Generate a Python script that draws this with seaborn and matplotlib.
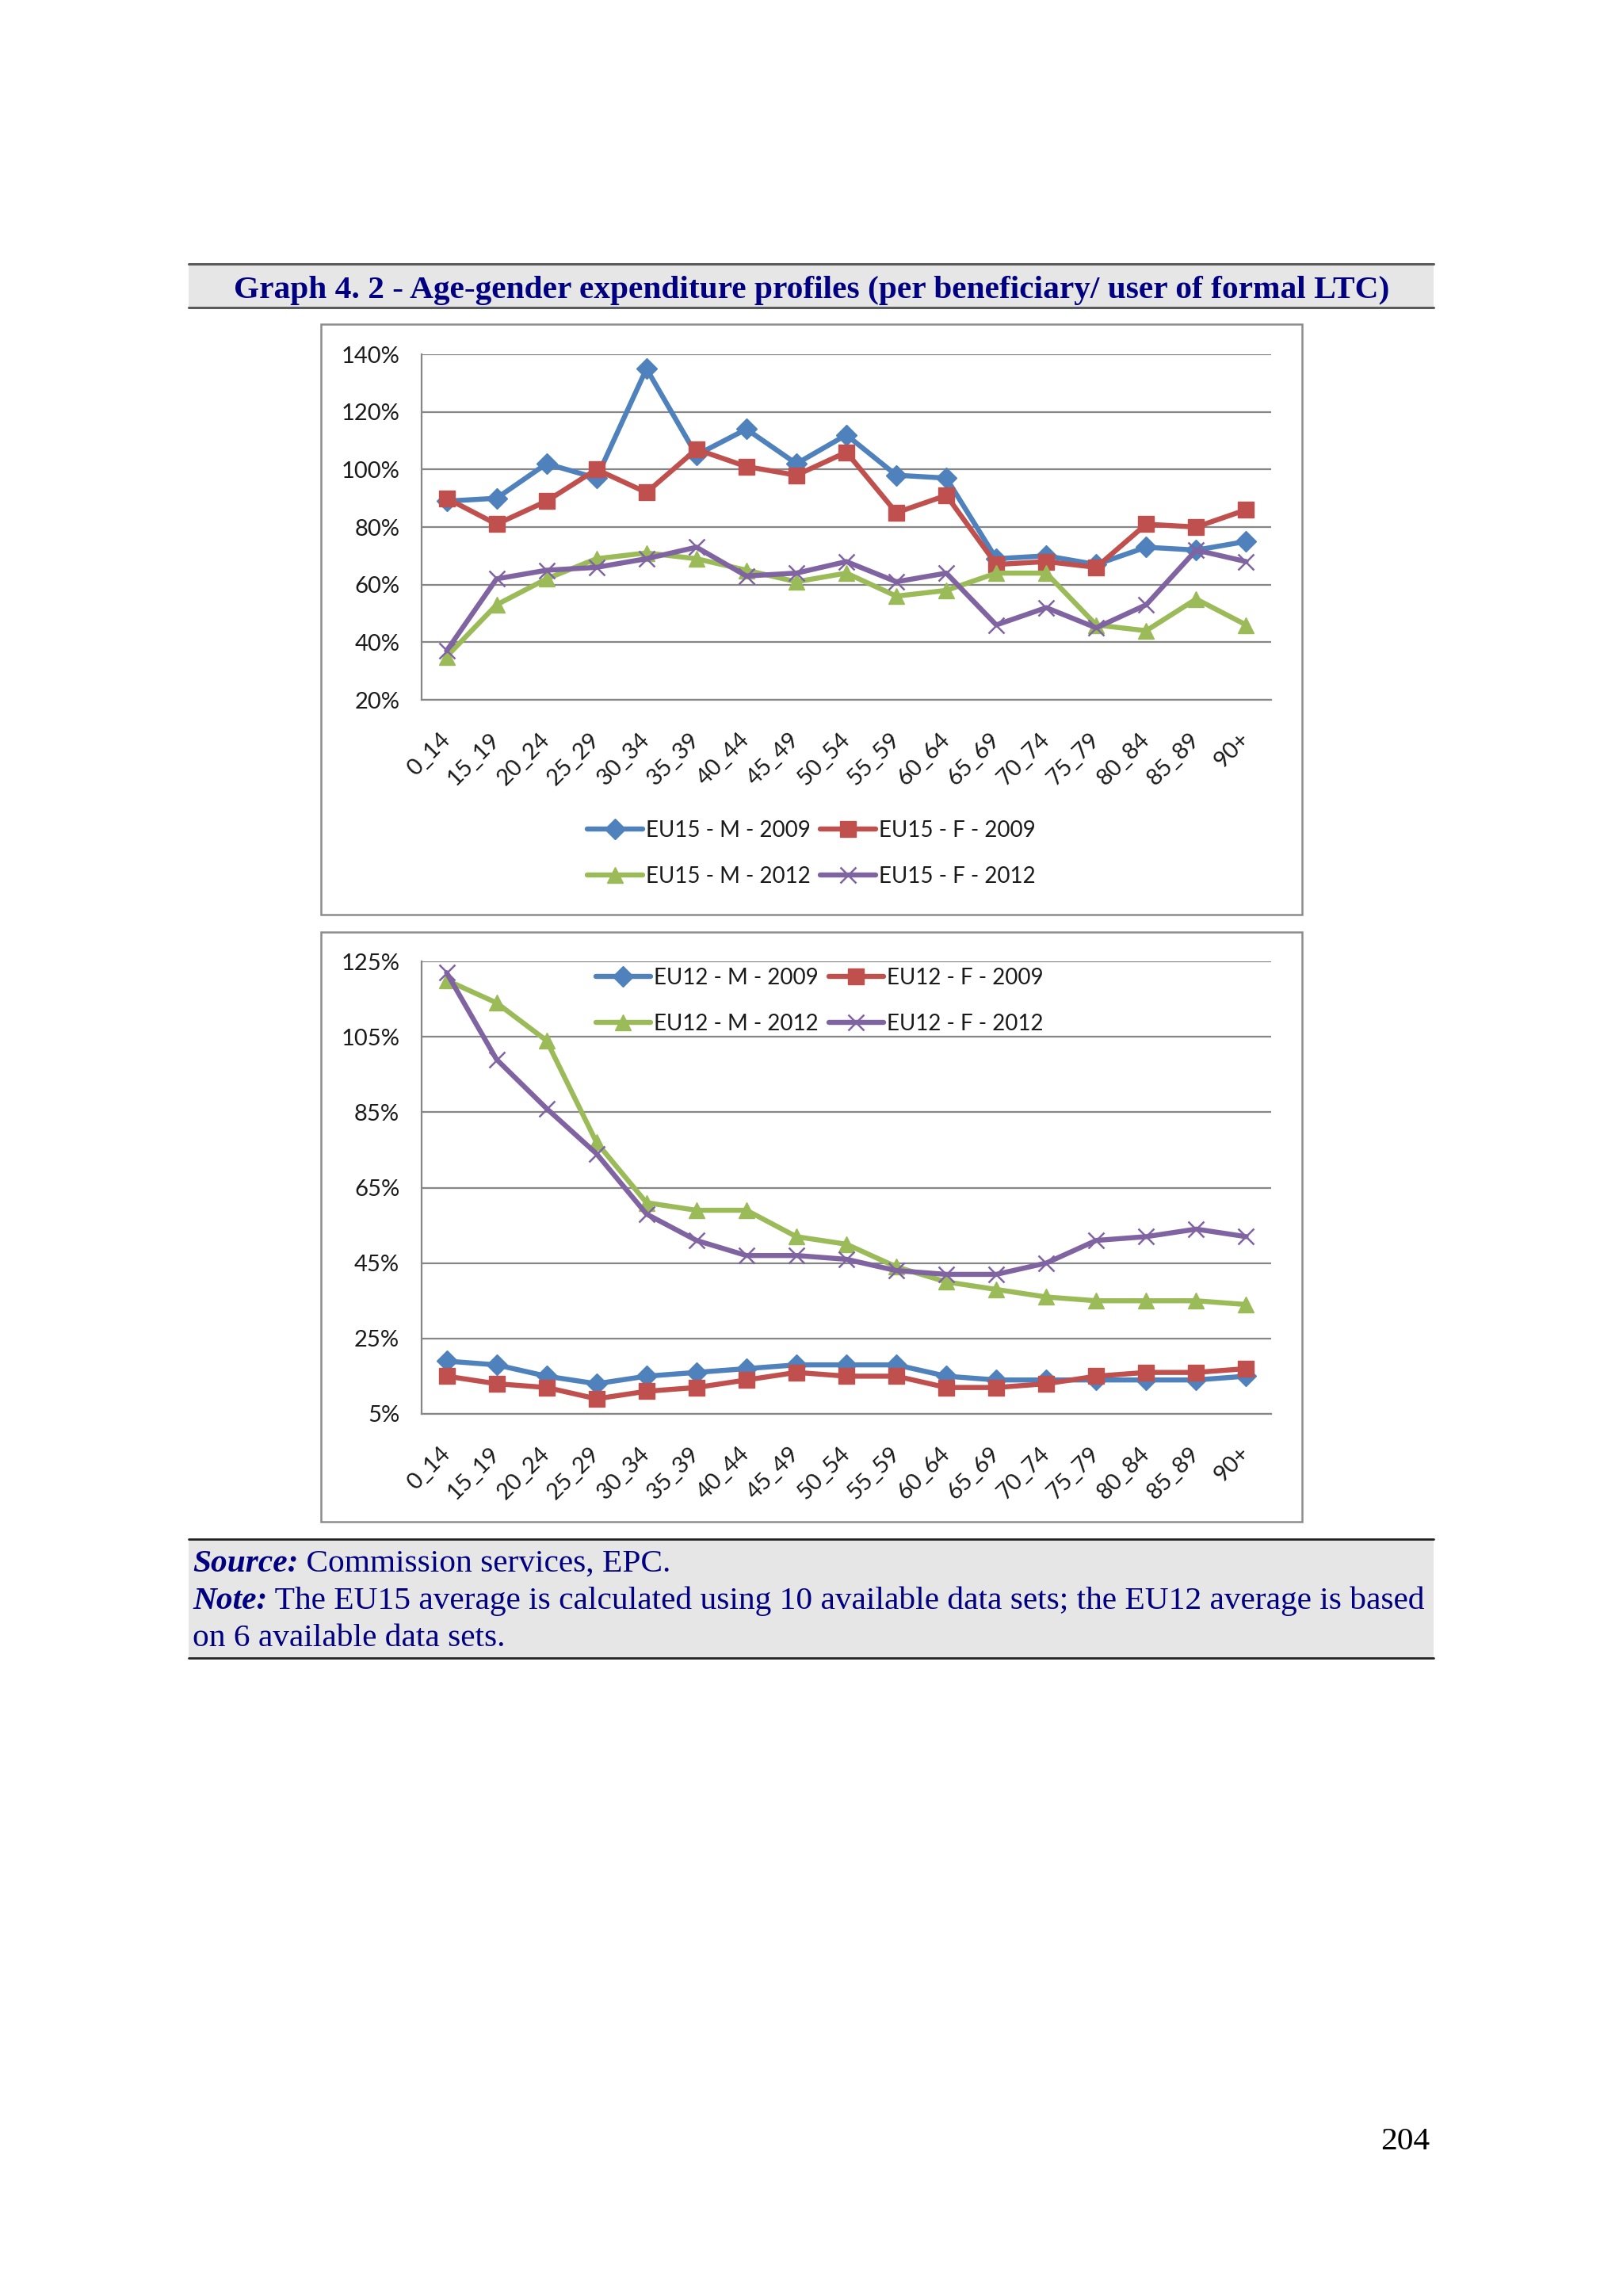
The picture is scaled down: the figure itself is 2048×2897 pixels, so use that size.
import numpy as np
import pandas as pd
import matplotlib.pyplot as plt
import seaborn as sns
from matplotlib.patches import Rectangle
from matplotlib.lines import Line2D
from matplotlib.ticker import FuncFormatter

# age groups on the x axis
ages = ["0_14", "15_19", "20_24", "25_29", "30_34", "35_39", "40_44", "45_49",
        "50_54", "55_59", "60_64", "65_69", "70_74", "75_79", "80_84", "85_89", "90+"]

# EU15 profiles (%)
eu15_m_2009 = [89, 90, 102, 97, 135, 105, 114, 102, 112, 98, 97, 69, 70, 67, 73, 72, 75]
eu15_f_2009 = [90, 81, 89, 100, 92, 107, 101, 98, 106, 85, 91, 67, 68, 66, 81, 80, 86]
eu15_m_2012 = [35, 53, 62, 69, 71, 69, 65, 61, 64, 56, 58, 64, 64, 46, 44, 55, 46]
eu15_f_2012 = [37, 62, 65, 66, 69, 73, 63, 64, 68, 61, 64, 46, 52, 45, 53, 72, 68]

# EU12 profiles (%)
eu12_m_2009 = [19, 18, 15, 13, 15, 16, 17, 18, 18, 18, 15, 14, 14, 14, 14, 14, 15]
eu12_f_2009 = [15, 13, 12, 9, 11, 12, 14, 16, 15, 15, 12, 12, 13, 15, 16, 16, 17]
eu12_m_2012 = [120, 114, 104, 77, 61, 59, 59, 52, 50, 44, 40, 38, 36, 35, 35, 35, 34]
eu12_f_2012 = [122, 99, 86, 74, 58, 51, 47, 47, 46, 43, 42, 42, 45, 51, 52, 54, 52]

title = "Graph 4. 2 - Age-gender expenditure profiles (per beneficiary/ user of formal LTC)"

sns.set_style("white")
plt.rcParams["font.family"] = ["Lato", "DejaVu Sans"]

W, H = 2048, 2897
fig = plt.figure(figsize=(W / 100, H / 100), dpi=100)
fig.patch.set_facecolor("white")


def box(x0, y0, x1, y1):
    # pixel box -> figure fraction rect
    return [x0 / W, 1 - y1 / H, (x1 - x0) / W, (y1 - y0) / H]


def frame(x0, y0, x1, y1, **kw):
    r = box(x0, y0, x1, y1)
    fig.add_artist(Rectangle((r[0], r[1]), r[2], r[3], transform=fig.transFigure,
                             zorder=-10, **kw))


def hline(x0, x1, y, **kw):
    fig.add_artist(Line2D([x0 / W, x1 / W], [1 - y / H, 1 - y / H], transform=fig.transFigure, **kw))


# title band
frame(238, 333, 1809, 388, facecolor="#E6E6E6", edgecolor="none")
hline(238, 1809, 333, color="#5a5a5a", lw=2.2)
hline(238, 1809, 388, color="#5a5a5a", lw=2.2)
fig.text(0.5, 1 - 376 / H, title, ha="center", va="baseline", family="Liberation Serif",
         weight="bold", color="#000080", size=29.8)

# chart frames
frame(405, 409, 1643, 1154, facecolor="white", edgecolor="#8c8c8c", lw=1.8)
frame(405, 1176, 1643, 1920, facecolor="white", edgecolor="#8c8c8c", lw=1.8)

colors = ["#4F81BD", "#C0504D", "#9BBB59", "#8064A2"]
mk = [("D", 13, 1), ("s", 14, 1), ("^", 15, 1), ("x", 14, 1.8)]
grid_c = "#868686"
txt_c = "#1a1a1a"


def panel(rect, prefix, series, ylo, yhi, step):
    ax = fig.add_axes(box(*rect))
    ax.set_facecolor("none")
    names = ["M - 2009", "F - 2009", "M - 2012", "F - 2012"]
    for vals, name, c, (m, ms, mew) in zip(series, names, colors, mk):
        sns.lineplot(x=ages, y=vals, ax=ax, color=c, lw=4.6, marker=m, markersize=ms,
                     markeredgecolor=c, markerfacecolor=c, markeredgewidth=mew,
                     sort=False, errorbar=None, label=f"{prefix} - {name}")
    ax.set_xlim(-0.5, len(ages) - 0.5)
    ax.set_ylim(ylo, yhi)
    ax.set_yticks(np.arange(ylo, yhi + 1, step))
    ax.yaxis.set_major_formatter(FuncFormatter(lambda v, p: f"{v:.0f}%"))
    ax.yaxis.grid(True, color=grid_c, lw=1.6)
    ax.set_axisbelow(True)
    for s in ["top", "right"]:
        ax.spines[s].set_visible(False)
    for s in ["left", "bottom"]:
        ax.spines[s].set_color(grid_c)
        ax.spines[s].set_linewidth(1.6)
    ax.set_xticks(range(len(ages)))
    ax.set_xticks(np.arange(-0.5, len(ages)), minor=True)
    ax.tick_params(axis="y", length=6, width=1.5, color=grid_c, pad=14, labelsize=21,
                   labelcolor=txt_c)
    ax.tick_params(axis="x", which="major", length=0, pad=33, labelsize=21,
                   labelcolor=txt_c)
    ax.tick_params(axis="x", which="minor", length=10, width=1.5, color=grid_c, direction="out")
    plt.setp(ax.get_xticklabels(), rotation=45, ha="right", va="center", rotation_mode="anchor")
    ax.set_xlabel("")
    ax.set_ylabel("")
    return ax


leg_kw = dict(ncol=2, loc="center", bbox_transform=fig.transFigure, frameon=False,
              fontsize=20, handlelength=2.5, handletextpad=0.15, columnspacing=0.45,
              labelspacing=1.15, labelcolor=txt_c)
order = [0, 2, 1, 3]

ax1 = panel((532, 447, 1604, 883), "EU15",
            [eu15_m_2009, eu15_f_2009, eu15_m_2012, eu15_f_2012], 20, 140, 20)
h, l = ax1.get_legend_handles_labels()
ax1.legend([h[i] for i in order], [l[i] for i in order],
           bbox_to_anchor=(0.5, 1 - 1077 / H), **leg_kw)

ax2 = panel((532, 1213, 1604, 1784), "EU12",
            [eu12_m_2009, eu12_f_2009, eu12_m_2012, eu12_f_2012], 5, 125, 20)
h, l = ax2.get_legend_handles_labels()
ax2.legend([h[i] for i in order], [l[i] for i in order],
           bbox_to_anchor=(0.505, 1 - 1263 / H), **leg_kw)

# source / note band
frame(238, 1942, 1809, 2092, facecolor="#E6E6E6", edgecolor="none")
hline(238, 1809, 1942, color="#222222", lw=2)
hline(238, 1809, 2092, color="#222222", lw=2)

serif = dict(family="Liberation Serif", color="#000080", size=29.8)
x0 = 243 / W
t = fig.text(x0, 1 - 1983 / H, "Source:", weight="bold", style="italic", va="baseline", **serif)
fig.add_artist(plt.Annotation(" Commission services, EPC.", xy=(1, 0), xycoords=t,
                              va="bottom", ha="left", **serif))
t2 = fig.text(x0, 1 - 2030 / H, "Note:", weight="bold", style="italic", va="baseline", **serif)
fig.add_artist(plt.Annotation(" The EU15 average is calculated using 10 available data sets; "
                              "the EU12 average is based", xy=(1, 0), xycoords=t2,
                              va="bottom", ha="left", **serif))
fig.text(x0, 1 - 2077 / H, "on 6 available data sets.", va="baseline", **serif)

fig.text(1804 / W, 1 - 2712 / H, "204", ha="right", va="baseline",
         family="Liberation Serif", size=29.8, color="black")

fig.savefig("out.png", dpi=100, facecolor="white")
